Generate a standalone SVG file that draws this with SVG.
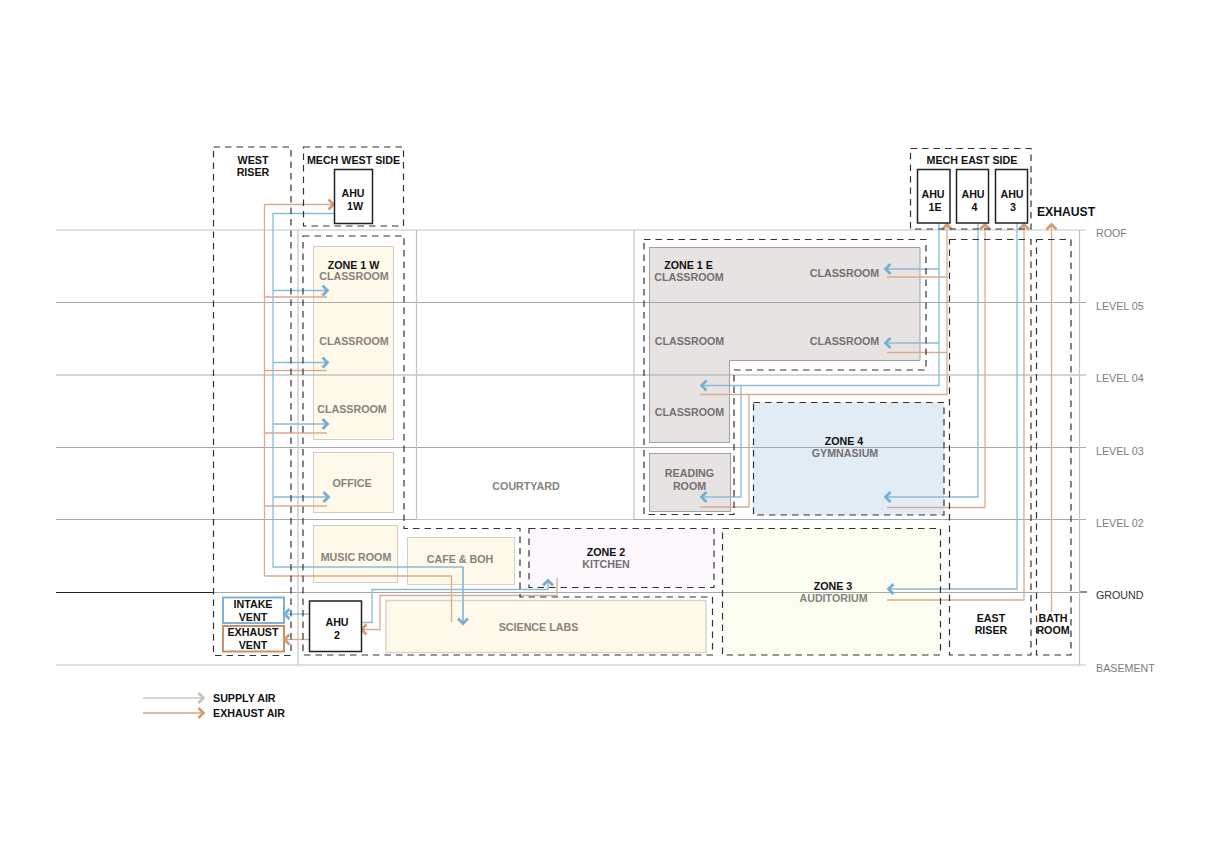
<svg xmlns="http://www.w3.org/2000/svg" width="1218" height="867" viewBox="0 0 1218 867">
<style>
text{font-family:"Liberation Sans",Arial,sans-serif;text-anchor:middle;font-size:10.7px;font-weight:bold}
.k{fill:#111}
.g{fill:#87837a}
.d{fill:#737070}
.lv{font-weight:normal;font-size:10.7px;fill:#7d7d7d;text-anchor:start}
.lvl{stroke:#a8a8a8;stroke-width:1;fill:none}
.wall{stroke:#c4c4c4;stroke-width:1.2;fill:none}
.dash{fill:none;stroke:#333;stroke-width:1.2;stroke-dasharray:6.500 5}
.cream{fill:#fef9e9;stroke:#d2cec2;stroke-width:1}
.grey{fill:#e8e3e3;stroke:#a0a0a0;stroke-width:1}
.box{fill:#fff;stroke:#222;stroke-width:1.5}
.s{fill:none;stroke:#8cbad8;stroke-width:1.300}
.e{fill:none;stroke:#dbac8c;stroke-width:1.300}
.sa{marker-end:url(#as)}
.ea{marker-end:url(#ae)}
</style>
<defs>
<marker id="as" markerUnits="userSpaceOnUse" markerWidth="13" markerHeight="16" refX="9" refY="8" orient="auto"><path d="M3.500 3L8.500 8L3.500 13" fill="none" stroke="#74aed3" stroke-width="2.700"/></marker>
<marker id="ae" markerUnits="userSpaceOnUse" markerWidth="13" markerHeight="16" refX="9" refY="8" orient="auto"><path d="M3.500 3L8.500 8L3.500 13" fill="none" stroke="#d09c76" stroke-width="2.700"/></marker>
<marker id="al" markerUnits="userSpaceOnUse" markerWidth="13" markerHeight="16" refX="9" refY="8" orient="auto"><path d="M3.500 3L8.500 8L3.500 13" fill="none" stroke="#c3c8b6" stroke-width="2.700"/></marker>
</defs>

<g id="rooms">
<rect class="cream" x="313.500" y="246.500" width="80" height="193"/>
<rect class="cream" x="313.500" y="452.500" width="80" height="60"/>
<rect class="cream" x="313.500" y="525.500" width="84" height="57"/>
<rect class="cream" x="407.500" y="537.500" width="107" height="47"/>
<rect x="386" y="600.500" width="320" height="52" fill="#fef9e9" stroke="#d9d5c9" stroke-width="1.500"/>
<path class="grey" d="M649.500 247.500H920V360.500H729.500V442.500H649.500Z"/>
<rect class="grey" x="649.500" y="453.500" width="81" height="58"/>
<rect x="529" y="528" width="185" height="59" fill="#fbf7fd"/>
<rect x="722" y="528" width="218" height="127" fill="#fbfdf1"/>
<rect x="753" y="402" width="191" height="113" fill="#e2ecf5"/>
</g>

<g id="levels">
<path class="wall" d="M56 230H1086M56 665H1086"/>
<path class="lvl" d="M56 302.500H1086M56 375H1086M56 447.500H1086M56 519.500H1086"/>
<path d="M56 592.500H213" stroke="#222" fill="none"/>
<path class="lvl" d="M213 592.500H1080"/>
<path d="M1080 592H1087" stroke="#222" fill="none"/>
<path class="wall" d="M298 230V665M1079.500 230V665"/>
<path class="wall" d="M416.500 230V519.500H634M634 230V519.500"/>
</g>

<g id="intake-vent"><rect x="223" y="597.500" width="61" height="25.500" fill="#fff" stroke="#7fb2d6" stroke-width="2"/><text class="k" x="253" y="608">INTAKE</text><text class="k" x="253" y="620.500">VENT</text></g>
<g id="exhaust-vent"><rect x="223" y="626" width="61" height="25.500" fill="#fff" stroke="#c98f68" stroke-width="2"/><text class="k" x="253" y="636">EXHAUST</text><text class="k" x="253" y="649">VENT</text></g>

<g id="connectors">
<path class="e ea" d="M264.500 576V204.500H334"/>
<path class="e" d="M264 297H327M264 370.500H327M264 433H327M264 506H327M264.500 576H451.500V622"/>
<path class="s" d="M334 213.500H273V567H463V622"/>
<path class="sa s" d="M273 290.500H328"/>
<path class="sa s" d="M273 362.500H328"/>
<path class="sa s" d="M273 424H328"/>
<path class="sa s" d="M273 497H329"/>
<path class="sa s" d="M463 567V624"/>
<path class="sa s" d="M309 614H284"/>
<path class="ea e" d="M309 639.500H284"/>
<path class="sa s" d="M361 622.500H372V589.500H548V580"/>
<path class="ea e" d="M557 578V595.500H380V629.500H361"/>
<path class="sa s" d="M939 269H885"/>
<path class="sa s" d="M939 343H885"/>
<path class="s" d="M939 223V385.500H741"/>
<path class="sa s" d="M741 385.500H701"/>
<path class="sa s" d="M741 385.500V497H701"/>
<path class="ea e" d="M947 394.500V224"/>
<path class="e" d="M947 277H887M947 352.500H887M947 394.500H700"/>
<path class="e" d="M749 394.500V507H700"/>
<path class="sa s" d="M978 223V497H885"/>
<path class="ea e" d="M887 507.500H985V224"/>
<path class="sa s" d="M1017 223V589H888"/>
<path class="ea e" d="M887 600H1024V224"/>
<path class="ea e" d="M1051.500 612V224"/>
</g>

<g id="zones">
<rect class="dash" x="213.500" y="147" width="77.500" height="508.500"/>
<rect class="dash" x="303.500" y="147" width="100" height="79"/>
<path class="dash" d="M303 236H404V528.500H520V597H712.500V655H303Z"/>
<rect class="dash" x="529" y="528.500" width="185" height="59"/>
<rect class="dash" x="722.500" y="528.500" width="218" height="126.500"/>
<rect class="dash" x="753.500" y="402.500" width="190.500" height="112.500"/>
<path class="dash" d="M644 239.500H926V370H734V514.500H644Z"/>
<rect class="dash" x="910.500" y="148.500" width="120.500" height="80.500"/>
<rect class="dash" x="949.500" y="239.500" width="81.500" height="415.500"/>
<rect class="dash" x="1036.500" y="239.500" width="34.500" height="415.500"/>
</g>

<g id="ahu-1w"><rect class="box" x="334.500" y="169.500" width="38" height="54"/><text class="k" x="353" y="197">AHU</text><text class="k" x="355" y="210">1W</text></g>
<g id="ahu-1e"><rect class="box" x="917.500" y="169.500" width="32.500" height="53.500"/><text class="k" x="933" y="198">AHU</text><text class="k" x="935" y="211">1E</text></g>
<g id="ahu-4"><rect class="box" x="956.500" y="169.500" width="32" height="53.500"/><text class="k" x="973" y="198">AHU</text><text class="k" x="974.500" y="211">4</text></g>
<g id="ahu-3"><rect class="box" x="995.500" y="169.500" width="32" height="53.500"/><text class="k" x="1012" y="198">AHU</text><text class="k" x="1013" y="211">3</text></g>
<g id="ahu-2"><rect class="box" x="309.500" y="601" width="52" height="50.500"/><text class="k" x="337" y="626">AHU</text><text class="k" x="337" y="639">2</text></g>

<g id="labels">
<text class="k" x="253" y="164">WEST</text><text class="k" x="253" y="175.500">RISER</text>
<text class="k" x="353.500" y="164">MECH WEST SIDE</text>
<text class="k" x="972" y="164">MECH EAST SIDE</text>
<text class="k" x="1066" y="216" style="font-size:12.200px">EXHAUST</text>
<text class="k" x="353.500" y="269">ZONE 1 W</text>
<text class="g" x="354" y="280">CLASSROOM</text>
<text class="g" x="354" y="344.500">CLASSROOM</text>
<text class="g" x="352" y="413">CLASSROOM</text>
<text class="g" x="352" y="487">OFFICE</text>
<text class="g" x="356" y="561">MUSIC ROOM</text>
<text class="g" x="460" y="563">CAFE &amp; BOH</text>
<text class="g" x="538.500" y="631">SCIENCE LABS</text>
<text class="g" x="526" y="490">COURTYARD</text>
<text class="k" x="606" y="556">ZONE 2</text>
<text class="d" x="606" y="568">KITCHEN</text>
<text class="k" x="833" y="590">ZONE 3</text>
<text class="g" x="833.500" y="602">AUDITORIUM</text>
<text class="k" x="844" y="445">ZONE 4</text>
<text class="d" x="845" y="456.500">GYMNASIUM</text>
<text class="k" x="688.500" y="269">ZONE 1 E</text>
<text class="d" x="689" y="281">CLASSROOM</text>
<text class="d" x="689.500" y="345">CLASSROOM</text>
<text class="d" x="689.500" y="415.500">CLASSROOM</text>
<text class="d" x="689.500" y="477">READING</text>
<text class="d" x="689.500" y="490">ROOM</text>
<text class="d" x="844.500" y="277">CLASSROOM</text>
<text class="d" x="844.500" y="345">CLASSROOM</text>
<text class="k" x="991" y="622">EAST</text><text class="k" x="991" y="634">RISER</text>
<text class="k" x="1053" y="622">BATH</text><text class="k" x="1053" y="634">ROOM</text>
<text class="lv" x="1096" y="237">ROOF</text>
<text class="lv" x="1096" y="310">LEVEL 05</text>
<text class="lv" x="1096" y="382">LEVEL 04</text>
<text class="lv" x="1096" y="455">LEVEL 03</text>
<text class="lv" x="1096" y="527">LEVEL 02</text>
<text class="lv" x="1096" y="599" style="fill:#333">GROUND</text>
<text class="lv" x="1096" y="672">BASEMENT</text>
</g>

<g id="legend">
<path d="M143 698H204" fill="none" stroke="#c9cdbd" stroke-width="1.300" marker-end="url(#al)"/>
<path d="M143 713H204" fill="none" stroke="#d6a583" stroke-width="1.300" marker-end="url(#ae)"/>
<text class="k" x="213" y="701.500" style="text-anchor:start">SUPPLY AIR</text>
<text class="k" x="213" y="716.500" style="text-anchor:start">EXHAUST AIR</text>
</g>
</svg>
